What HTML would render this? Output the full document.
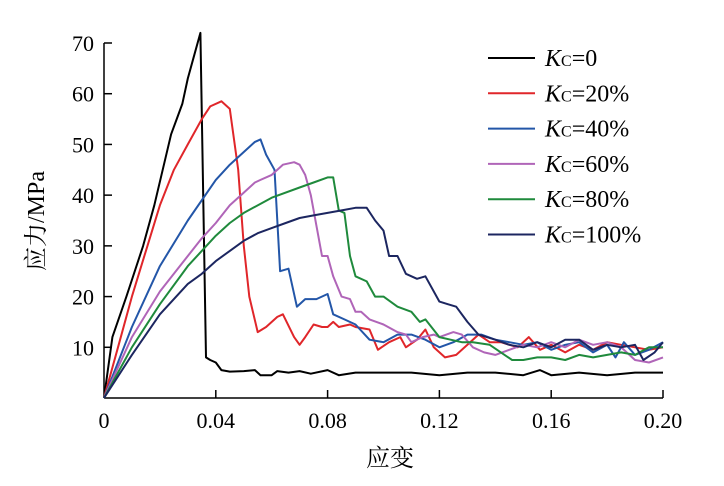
<!DOCTYPE html>
<html><head><meta charset="utf-8"><style>
body{margin:0;background:#fff;}
svg text{font-family:"Liberation Serif","Noto Serif CJK SC",serif;fill:#000;}
</style></head><body>
<svg width="724" height="481">
<g id="axes"></g><g id="series"></g><g id="legend"></g>
</svg>
<script>
const xTicks=[0,0.04,0.08,0.12,0.16,0.20];
const xTickLabels=["0","0.04","0.08","0.12","0.16","0.20"];
const yTicks=[10,20,30,40,50,60,70];
const seriesNames=["0","20%","40%","60%","80%","100%"];
const seriesColors=["#000000","#e0262a","#2356a8","#b065b8","#1f8a3c","#1c2660"];
const s0=[[0,0],[0.003,12],[0.008,20],[0.014,30],[0.018,38],[0.021,45],[0.024,52],[0.026,55],[0.028,58],[0.03,63],[0.032,67],[0.0345,72],[0.0365,8],[0.038,7.5],[0.04,7],[0.042,5.5],[0.045,5.2],[0.05,5.3],[0.054,5.5],[0.056,4.5],[0.06,4.5],[0.062,5.3],[0.066,5],[0.07,5.3],[0.074,4.8],[0.08,5.5],[0.084,4.5],[0.09,5],[0.1,5],[0.11,5],[0.12,4.5],[0.13,5],[0.14,5],[0.15,4.5],[0.156,5.5],[0.16,4.5],[0.17,5],[0.18,4.5],[0.19,5],[0.2,5]];
const s20=[[0,0],[0.005,10],[0.01,20],[0.015,29],[0.02,38],[0.025,45],[0.03,50],[0.035,55],[0.038,57.5],[0.042,58.5],[0.045,57],[0.048,45],[0.05,30],[0.052,20],[0.055,13],[0.058,14],[0.062,16],[0.064,16.5],[0.068,12],[0.07,10.5],[0.072,12],[0.075,14.5],[0.078,14],[0.08,14],[0.082,15],[0.084,14],[0.088,14.5],[0.09,14],[0.095,13.5],[0.098,9.5],[0.102,11],[0.106,12],[0.108,10],[0.112,11.5],[0.115,13.5],[0.118,10],[0.122,8],[0.126,8.5],[0.13,10.5],[0.134,12.5],[0.138,11],[0.142,11],[0.148,10],[0.152,12],[0.156,9.5],[0.16,10.5],[0.165,9],[0.17,10.5],[0.175,9.5],[0.18,11],[0.185,10.5],[0.19,10],[0.195,9.5],[0.2,10]];
const s40=[[0,0],[0.01,14],[0.02,26],[0.03,35],[0.04,43],[0.045,46],[0.05,48.5],[0.054,50.5],[0.056,51],[0.058,48],[0.061,45],[0.062,35],[0.063,25],[0.066,25.5],[0.069,18],[0.072,19.5],[0.076,19.5],[0.08,20.5],[0.082,16.5],[0.086,15.5],[0.09,14.5],[0.095,11.5],[0.1,11],[0.105,12.5],[0.11,12.5],[0.115,11.5],[0.12,10],[0.125,11],[0.13,12.5],[0.135,12.5],[0.14,11.5],[0.145,11],[0.15,10.5],[0.155,11],[0.16,9.5],[0.165,10.5],[0.17,11],[0.175,9],[0.18,10.5],[0.183,8],[0.186,11],[0.19,8.5],[0.195,9.5],[0.2,11]];
const s60=[[0,0],[0.01,12],[0.02,21],[0.03,28],[0.035,31.5],[0.04,34.5],[0.045,38],[0.05,40.5],[0.054,42.5],[0.056,43],[0.06,44],[0.064,46],[0.068,46.5],[0.07,46],[0.072,44],[0.074,40],[0.076,34],[0.078,28],[0.08,28],[0.082,24],[0.085,20],[0.088,19.5],[0.09,17],[0.092,17],[0.095,15.5],[0.1,14.5],[0.105,13],[0.108,12.5],[0.11,11],[0.114,12],[0.118,12.5],[0.12,12],[0.125,13],[0.128,12.5],[0.132,10],[0.136,9],[0.14,8.5],[0.145,9.5],[0.15,10.5],[0.155,10],[0.16,11],[0.165,10],[0.17,11.5],[0.175,10.5],[0.18,11],[0.185,10],[0.19,7.5],[0.195,7],[0.2,8]];
const s80=[[0,0],[0.01,10],[0.02,18.5],[0.03,26],[0.04,32],[0.045,34.5],[0.05,36.5],[0.06,39.5],[0.07,41.5],[0.075,42.5],[0.08,43.5],[0.082,43.5],[0.084,37],[0.086,36.5],[0.088,28],[0.09,24],[0.094,23],[0.097,20],[0.1,20],[0.105,18],[0.11,17],[0.113,15],[0.115,15.5],[0.12,12],[0.124,11.5],[0.128,11],[0.132,11],[0.138,10.5],[0.142,9],[0.146,7.5],[0.15,7.5],[0.155,8],[0.16,8],[0.165,7.5],[0.17,8.5],[0.175,8],[0.18,8.5],[0.185,9],[0.19,8.5],[0.195,10],[0.2,10]];
const s100=[[0,0],[0.01,8.5],[0.02,16.5],[0.03,22.5],[0.035,24.5],[0.04,27],[0.045,29],[0.05,31],[0.055,32.5],[0.06,33.5],[0.065,34.5],[0.07,35.5],[0.075,36],[0.08,36.5],[0.085,37],[0.09,37.5],[0.094,37.5],[0.097,35],[0.1,33],[0.102,28],[0.105,28],[0.108,24.5],[0.112,23.5],[0.115,24],[0.12,19],[0.123,18.5],[0.126,18],[0.13,15],[0.134,12.5],[0.14,11.5],[0.145,10.5],[0.15,10],[0.155,11],[0.16,10],[0.165,11.5],[0.17,11.5],[0.175,9.5],[0.18,10.5],[0.185,10],[0.19,10.5],[0.193,7.5],[0.197,9],[0.2,11]];
const allSeries=[s0,s20,s40,s60,s80,s100];

const NS="http://www.w3.org/2000/svg";
const X0=104,X1=663,Y0=398,Y70=43;
function xs(v){return X0+(v-0)/(0.2)*(X1-X0);}
function ys(v){return Y0-v/70*(Y0-Y70);}
function mk(tag,attrs,parent){const e=document.createElementNS(NS,tag);for(const k in attrs)e.setAttribute(k,attrs[k]);parent.appendChild(e);return e;}
const axes=document.getElementById('axes');
let e=mk('line',{x1:X0,y1:Y0,x2:X1,y2:Y0,stroke:'#000','stroke-width':1.5},axes);


e=mk('line',{x1:X0,y1:Y0,x2:X0,y2:Y70,stroke:'#000','stroke-width':1.5},axes);


xTicks.forEach((t,i)=>{
 if(i>0){const l=mk('line',{x1:xs(t),y1:Y0,x2:xs(t),y2:Y0-8,stroke:'#000','stroke-width':1.5},axes);
 
 }
 const tx=mk('text',{x:xs(t),y:Y0+30,'text-anchor':'middle','font-size':22},axes);
 tx.textContent=xTickLabels[i];
 
 
});
yTicks.forEach(t=>{
 const l=mk('line',{x1:X0,y1:ys(t),x2:X0+8,y2:ys(t),stroke:'#000','stroke-width':1.5},axes);
 
 
 const tx=mk('text',{x:X0-10,y:ys(t)+8,'text-anchor':'end','font-size':22},axes);
 tx.textContent=String(t);
 
 
});
e=mk('text',{x:390,y:466,'text-anchor':'middle','font-size':24},axes);
e.textContent='应变';


e=mk('text',{x:0,y:0,'text-anchor':'middle','font-size':24,transform:'translate(44,221) rotate(-90)'},axes);
e.textContent='应力/MPa';


const sg=document.getElementById('series');
allSeries.forEach((s,i)=>{
 const p=mk('polyline',{points:s.map(d=>xs(d[0]).toFixed(1)+','+ys(d[1]).toFixed(1)).join(' '),fill:'none',stroke:seriesColors[i],'stroke-width':2,'stroke-linejoin':'round'},sg);
 
 
});
const lg=document.getElementById('legend');
seriesNames.forEach((n,i)=>{
 const y=58+i*35.3;
 const g=mk('g',{},lg);
 
 
 mk('line',{x1:488,y1:y,x2:535,y2:y,stroke:seriesColors[i],'stroke-width':2},g);
 const t=mk('text',{x:545,y:y+8,'font-size':24},g);
 t.innerHTML='<tspan font-style="italic">K</tspan><tspan font-size="16">C</tspan>='+n;
});
</script>
</body></html>
